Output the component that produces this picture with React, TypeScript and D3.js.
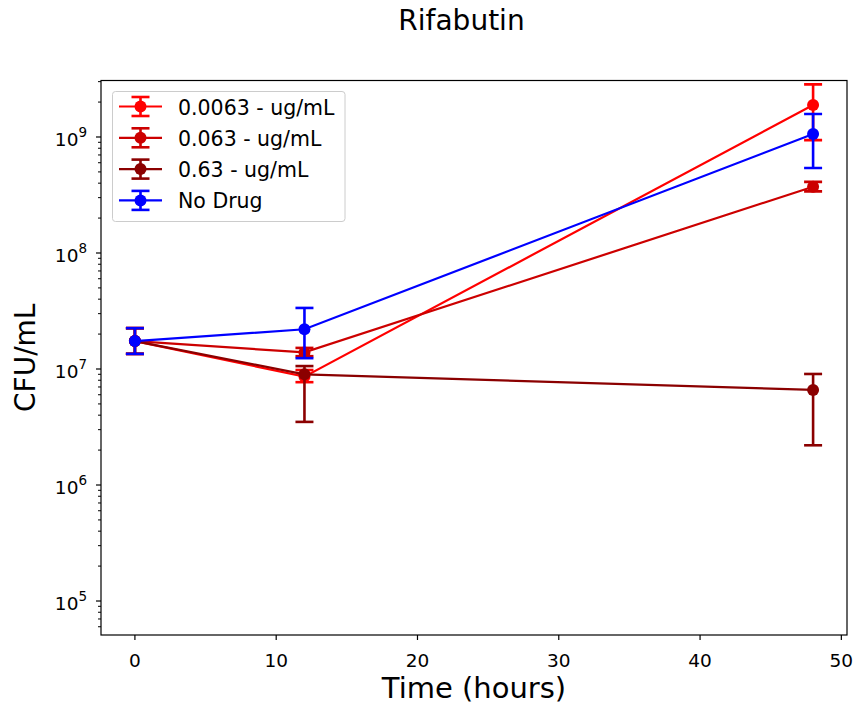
import React from "react";
import * as d3 from "d3";

const times = [0, 12, 48];
const seriesNames = ["0.0063 - ug/mL", "0.063 - ug/mL", "0.63 - ug/mL", "No Drug"];
const seriesColors = ["#ff0000", "#cc0000", "#8b0000", "#0000ff"];
const meanLow = [1.74e7, 8.6e6, 1.89e9];
const lowLow = [1.35e7, 7.7e6, 9.4e8];
const highLow = [2.25e7, 9.8e6, 2.84e9];
const meanMid = [1.74e7, 1.39e7, 3.73e8];
const lowMid = [1.35e7, 1.29e7, 3.4e8];
const highMid = [2.25e7, 1.52e7, 4.1e8];
const meanHigh = [1.74e7, 9.0e6, 6.6e6];
const lowHigh = [1.35e7, 3.5e6, 2.2e6];
const highHigh = [2.25e7, 1.06e7, 9.06e6];
const meanNone = [1.74e7, 2.2e7, 1.06e9];
const lowNone = [1.35e7, 1.24e7, 5.4e8];
const highNone = [2.25e7, 3.36e7, 1.58e9];
const xTicks = [0, 10, 20, 30, 40, 50];
const yExponents = [5, 6, 7, 8, 9];

const W = 854, H = 710;
const L = 101, R = 847, T = 80.5, B = 635;
const font = "DejaVu Sans, sans-serif";

export default function App() {
  const x = d3.scaleLinear().domain([-2.4, 50.4]).range([L, R]);
  const y = d3.scaleLog().domain([Math.pow(10, 4.707), Math.pow(10, 9.487)]).range([B, T]);
  const series = [
    { name: seriesNames[0], color: seriesColors[0], mean: meanLow, lo: lowLow, hi: highLow },
    { name: seriesNames[1], color: seriesColors[1], mean: meanMid, lo: lowMid, hi: highMid },
    { name: seriesNames[2], color: seriesColors[2], mean: meanHigh, lo: lowHigh, hi: highHigh },
    { name: seriesNames[3], color: seriesColors[3], mean: meanNone, lo: lowNone, hi: highNone },
  ];
  const line = d3.line<number>().x((_, i) => x(times[i])).y((d) => y(d));
  const [d0, d1] = y.domain();
  const minor: number[] = [];
  for (let e = 4; e <= 9; e++) for (let m = 2; m <= 9; m++) {
    const v = m * Math.pow(10, e);
    if (v >= d0 && v <= d1) minor.push(v);
  }
  const cap = 9;
  return (
    <div style={{ position: "absolute", left: 0, top: 0 }}>
      <svg width={W} height={H} style={{ display: "block", background: "#fff" }}>
        <text x={461.5} y={30} textAnchor="middle" fontFamily={font} fontSize={28}>Rifabutin</text>
        <defs>
          <clipPath id="clip"><rect x={L} y={T} width={R - L} height={B - T} /></clipPath>
        </defs>
        <g clipPath="url(#clip)">
          {series.map((s, si) => (
            <g key={si}>
              {times.map((t, i) => (
                <g key={i} stroke={s.color} strokeWidth={2.6}>
                  <line x1={x(t)} x2={x(t)} y1={y(s.lo[i])} y2={y(s.hi[i])} />
                  <line x1={x(t) - cap} x2={x(t) + cap} y1={y(s.lo[i])} y2={y(s.lo[i])} />
                  <line x1={x(t) - cap} x2={x(t) + cap} y1={y(s.hi[i])} y2={y(s.hi[i])} />
                </g>
              ))}
              <path d={line(s.mean) || ""} fill="none" stroke={s.color} strokeWidth={2.2} />
              {times.map((t, i) => (
                <circle key={i} cx={x(t)} cy={y(s.mean[i])} r={6} fill={s.color} />
              ))}
            </g>
          ))}
        </g>
        <rect x={L} y={T} width={R - L} height={B - T} fill="none" stroke="#000" strokeWidth={1.2} />
        {xTicks.map((t) => (
          <g key={t}>
            <line x1={x(t)} x2={x(t)} y1={B} y2={B + 5} stroke="#000" strokeWidth={1.2} />
            <text x={x(t)} y={667} textAnchor="middle" fontFamily={font} fontSize={18.5} fill="#000">{t}</text>
          </g>
        ))}
        {minor.map((v, i) => (
          <line key={i} x1={L - 3} x2={L} y1={y(v)} y2={y(v)} stroke="#000" strokeWidth={1} />
        ))}
        {yExponents.map((e) => {
          const yy = y(Math.pow(10, e));
          return (
            <g key={e}>
              <line x1={L - 5} x2={L} y1={yy} y2={yy} stroke="#000" strokeWidth={1.2} />
              <text x={L - 14} y={yy + 9} textAnchor="end" fontFamily={font} fontSize={18.5} fill="#000">
                10<tspan dy={-9} fontSize={13.5}>{e}</tspan>
              </text>
            </g>
          );
        })}
        <text x={(L + R) / 2} y={698} textAnchor="middle" fontFamily={font} fontSize={29}>Time (hours)</text>
        <text transform={`translate(35,${(T + B) / 2}) rotate(-90)`} textAnchor="middle" fontFamily={font} fontSize={28}>CFU/mL</text>
        <g>
          <rect x={112.5} y={91.5} width={232.5} height={130} rx={3} fill="#fff" fillOpacity={0.8} stroke="#ccc" strokeWidth={1} />
          {series.map((s, i) => {
            const ly = 106.5 + i * 31.3;
            return (
              <g key={i}>
                <line x1={119} x2={162} y1={ly} y2={ly} stroke={s.color} strokeWidth={2.2} />
                <g stroke={s.color} strokeWidth={2.6}>
                  <line x1={140.5} x2={140.5} y1={ly - 9.5} y2={ly + 9.5} />
                  <line x1={140.5 - cap} x2={140.5 + cap} y1={ly - 9.5} y2={ly - 9.5} />
                  <line x1={140.5 - cap} x2={140.5 + cap} y1={ly + 9.5} y2={ly + 9.5} />
                </g>
                <circle cx={140.5} cy={ly} r={6} fill={s.color} />
                <text x={178} y={ly + 8} fontFamily={font} fontSize={20.5} fill="#000">{s.name}</text>
              </g>
            );
          })}
        </g>
      </svg>
    </div>
  );
}
